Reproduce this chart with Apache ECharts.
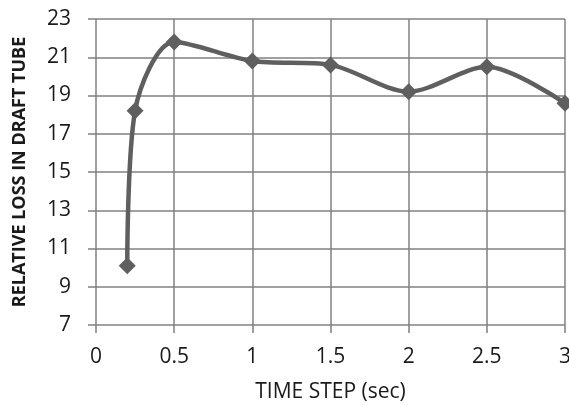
<!DOCTYPE html>
<html><head><meta charset="utf-8">
<script src="https://cdn.jsdelivr.net/npm/echarts@6/dist/echarts.min.js"></script>
<style>html,body{margin:0;padding:0;background:#fff}#c{width:569px;height:405px}</style>
</head><body><div id="c"></div>
<script>
const timeStep = [0.2, 0.25, 0.5, 1, 1.5, 2, 2.5, 3];
const relativeLoss = [10.1, 18.2, 21.8, 20.8, 20.6, 19.2, 20.5, 18.6];
const xTicks = [0, 0.5, 1, 1.5, 2, 2.5, 3];
const yTicks = [7, 9, 11, 13, 15, 17, 19, 21, 23];

const chart = echarts.init(document.getElementById('c'), null, {renderer: 'canvas'});
const font = '"Open Sans", "Noto Sans", sans-serif';
chart.setOption({
  animation: false,
  backgroundColor: '#fff',
  grid: {left: 96, right: 4, top: 19, bottom: 80, containLabel: false, outerBoundsMode: 'none'},
  xAxis: {
    type: 'value', min: xTicks[0], max: xTicks[xTicks.length - 1], interval: 0.5,
    name: 'TIME STEP (sec)', nameLocation: 'middle', nameGap: 57,
    nameTextStyle: {fontFamily: font, fontSize: 21, color: '#1a1a1a'},
    axisLine: {show: false},
    axisTick: {show: true, length: 8, lineStyle: {color: '#808080', width: 1.5}},
    axisLabel: {fontFamily: font, fontSize: 21, color: '#1a1a1a', margin: 22},
    splitLine: {show: true, lineStyle: {color: '#808080', width: 1.5}}
  },
  yAxis: {
    type: 'value', min: yTicks[0], max: yTicks[yTicks.length - 1], interval: 2,
    name: 'RELATIVE LOSS IN DRAFT TUBE', nameLocation: 'middle', nameGap: 67,
    nameTextStyle: {fontFamily: '"Open Sans", sans-serif', fontSize: 18, fontWeight: 'bold', color: '#1a1a1a'},
    axisLine: {show: false},
    axisTick: {show: true, length: 8, lineStyle: {color: '#808080', width: 1.5}},
    axisLabel: {fontFamily: font, fontSize: 21, color: '#1a1a1a', margin: 25},
    splitLine: {show: true, lineStyle: {color: '#808080', width: 1.5}}
  },
  series: [{
    type: 'line',
    data: timeStep.map((t, i) => [t, relativeLoss[i]]),
    smooth: 0.3,
    symbol: 'diamond', symbolSize: 17,
    lineStyle: {color: '#5f5f5f', width: 4.5},
    itemStyle: {color: '#5f5f5f'}
  }]
});
</script></body></html>
